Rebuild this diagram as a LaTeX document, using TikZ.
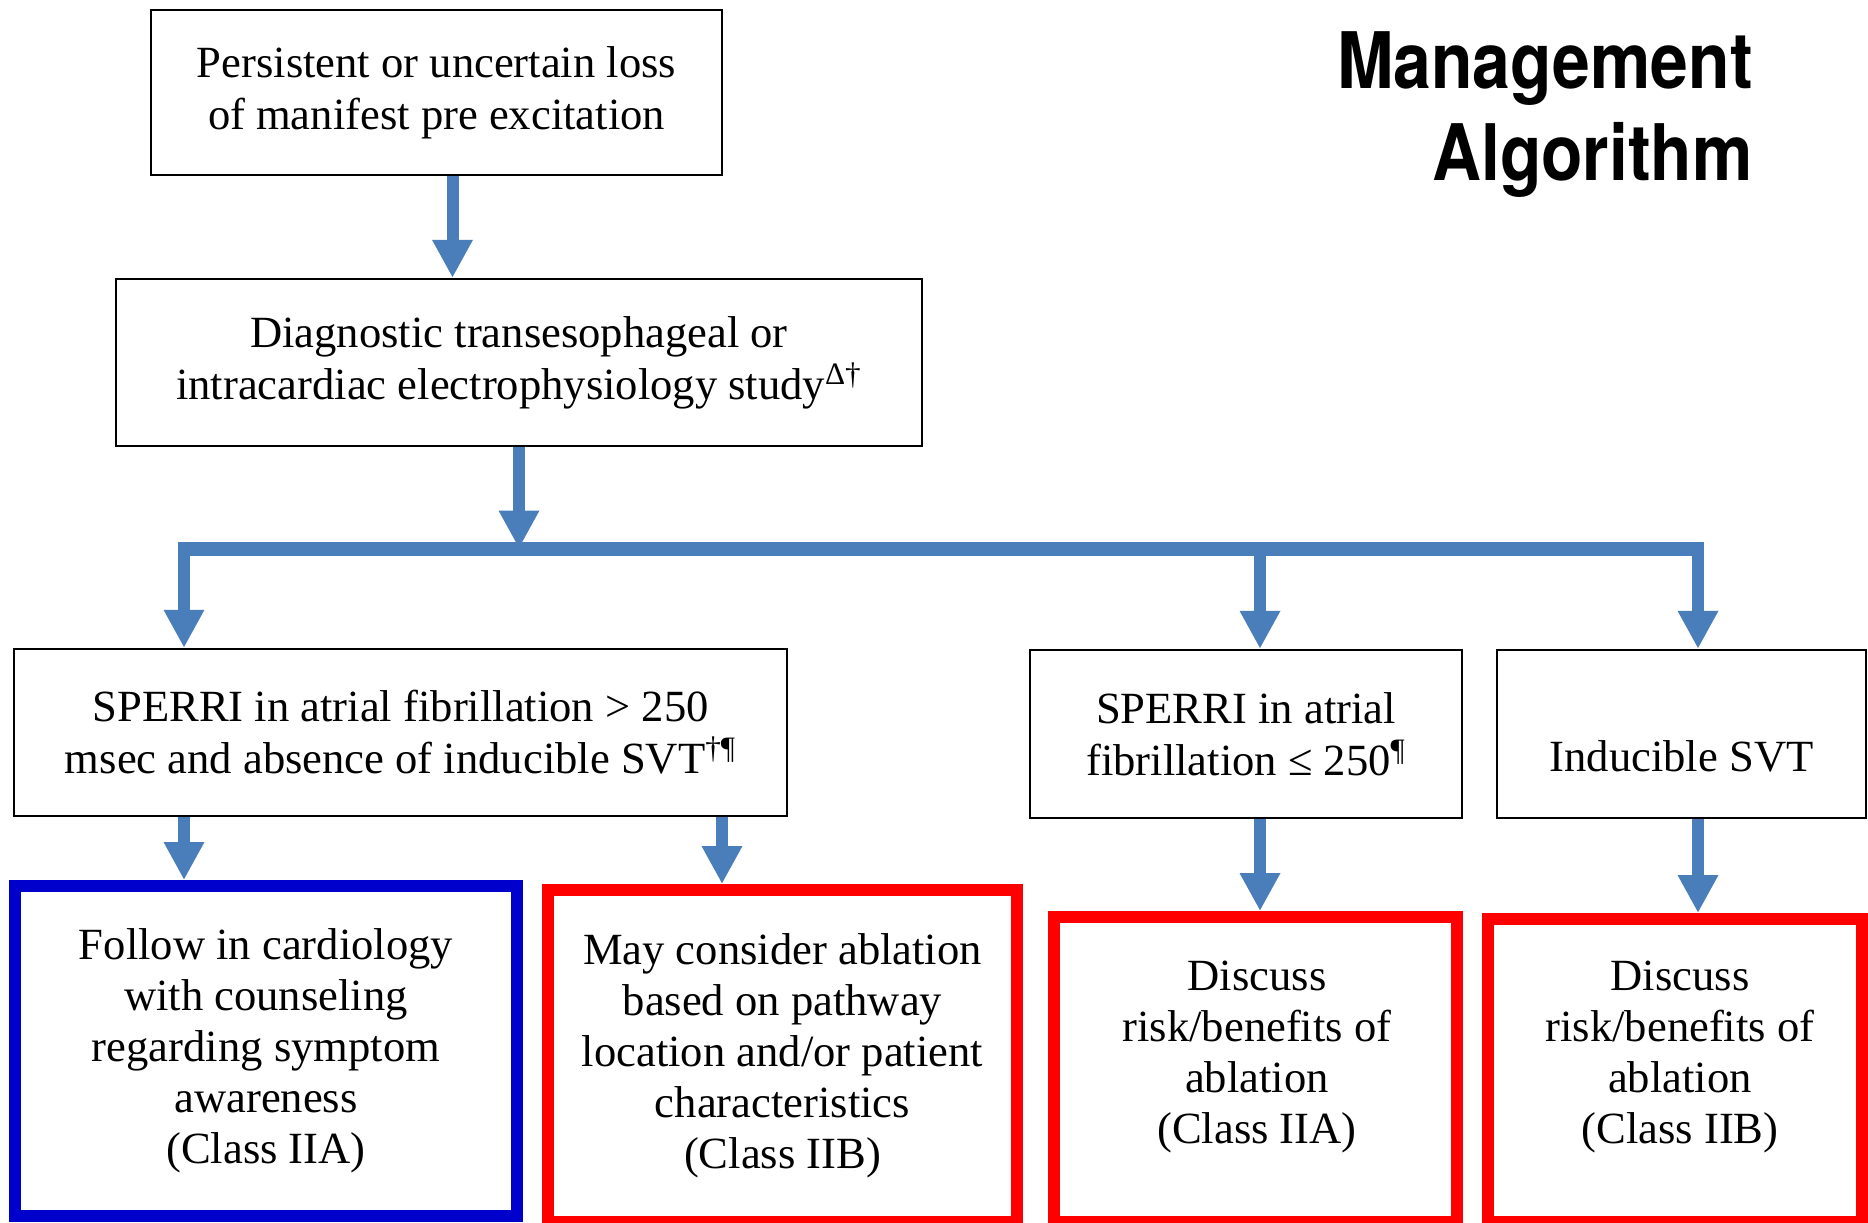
\documentclass[tikz,border=0pt]{standalone}
\usepackage{fontspec}
\usepackage{graphicx}
\setmainfont{Liberation Serif}
\newfontfamily\titlefont{TeX Gyre Heros}
\usetikzlibrary{arrows.meta}
\definecolor{arrowblue}{RGB}{74,126,187}
\definecolor{boxblue}{RGB}{0,0,204}
\definecolor{boxred}{RGB}{255,0,0}
\begin{document}
\begin{tikzpicture}[x=0.5pt,y=-0.5pt,
  txt/.style={inner sep=0pt, align=center, font=\fontsize{22.3}{26}\selectfont},
  txtb/.style={inner sep=0pt, align=center, font=\fontsize{22.3}{25.5}\selectfont},
  box/.style={txt, draw=black, line width=1.2pt},
  cbox/.style={txtb, line width=6pt},
  arr/.style={draw=arrowblue, line width=6pt, -{Triangle[width=19pt,length=19pt]}},
  barline/.style={draw=arrowblue, line width=7pt},
  ttl/.style={inner sep=0pt, anchor=base east, font=\titlefont\bfseries\fontsize{39}{46}\selectfont}
]
\fill[white] (0,0) rectangle (1868,1222);
\useasboundingbox (0,0) rectangle (1868,1222);

% title
\node[ttl] (title1) at (1753,88) {\scalebox{0.87}[1]{Management}};
\node[ttl] (title2) at (1753,180) {\scalebox{0.87}[1]{Algorithm}};

% top boxes
\node[box, minimum width=285.5pt, minimum height=82.5pt] (b1) at (436.5,92.5)
  {Persistent or uncertain loss\\of manifest pre excitation};
\node[box, minimum width=403pt, minimum height=83.5pt] (b2) at (519,362.5)
  {Diagnostic transesophageal or\\intracardiac electrophysiology study\textsuperscript{Δ†}};

% middle boxes
\node[box, minimum width=386.5pt, minimum height=83.5pt] (b3) at (400.5,732.5)
  {SPERRI in atrial fibrillation > 250\\msec and absence of inducible SVT\textsuperscript{†¶}};
\node[box, minimum width=216pt, minimum height=84pt] (b4) at (1246,734)
  {SPERRI in atrial\\fibrillation ≤ 250\textsuperscript{¶}};
\node[box, minimum width=184.5pt, minimum height=84pt] (b5) at (1681.5,734) {};
\node[txt] (t5) at (1681.5,756) {Inducible SVT};

% bottom boxes
\node[cbox, draw=boxblue, minimum width=251pt, minimum height=165pt] (b6) at (266,1051)
  {Follow in cardiology\\with counseling\\regarding symptom\\awareness\\(Class IIA)};
\node[cbox, draw=boxred, minimum width=234.5pt, minimum height=166pt] (b7) at (782.5,1056)
  {May consider ablation\\based on pathway\\location and/or patient\\characteristics\\(Class IIB)};
\node[cbox, draw=boxred, minimum width=201.5pt, minimum height=152.5pt] (b8) at (1255.5,1069.5) {};
\node[txtb] (t8) at (1257,1057) {Discuss\\risk/benefits of\\ablation\\(Class IIA)};
\node[cbox, draw=boxred, minimum width=187pt, minimum height=151.5pt] (b9) at (1675,1070.5) {};
\node[txtb] (t9) at (1680,1057) {Discuss\\risk/benefits of\\ablation\\(Class IIB)};

% connectors
\draw[arr] ([xshift=8pt]b1.south) -- ([xshift=8pt]b1.south |- b2.north);

\coordinate (bl) at (184,548.5);
\coordinate (bm) at (1260,548.5);
\coordinate (br) at (1698,548.5);
\draw[barline] ([xshift=-3pt]bl) -- ([xshift=3pt]br);
\draw[arr] (b2.south) -- (b2.south |- bl);
\draw[arr] ([yshift=3.5pt]bl) -- (bl |- b3.north);
\draw[arr] (bm) -- (bm |- b4.north);
\draw[arr] ([yshift=3.5pt]br) -- (br |- b5.north);

\draw[arr] ([xshift=-108.25pt]b3.south) -- ([xshift=-108.25pt]b3.south |- b6.north);
\draw[arr] ([xshift=160.75pt]b3.south) -- ([xshift=160.75pt]b3.south |- b7.north);
\draw[arr] ([xshift=7pt]b4.south) -- ([xshift=7pt]b4.south |- b8.north);
\draw[arr] ([xshift=8.25pt]b5.south) -- ([xshift=8.25pt]b5.south |- b9.north);
\end{tikzpicture}
\end{document}
